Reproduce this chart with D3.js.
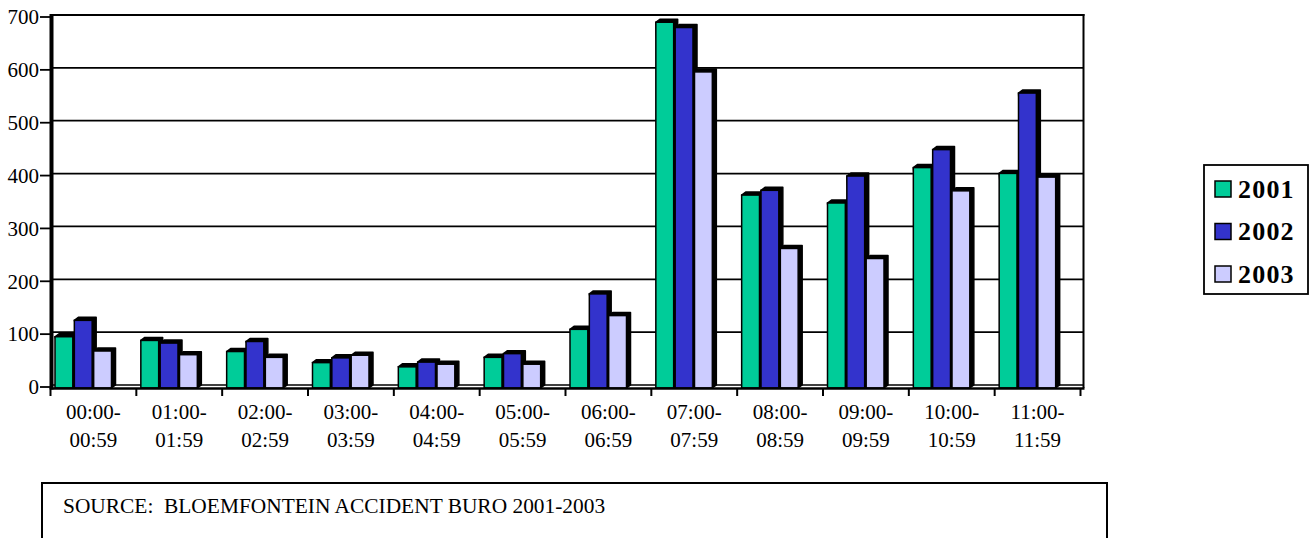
<!DOCTYPE html>
<html>
<head>
<meta charset="utf-8">
<script src="https://cdn.jsdelivr.net/npm/d3@7"></script>
<style>
  html, body { margin: 0; padding: 0; background: #fff; }
  svg { display: block; }
</style>
</head>
<body>
<svg id="chart"></svg>
<script>
// DATA
const categories = [
    "00:00-00:59", "01:00-01:59", "02:00-02:59", "03:00-03:59",
    "04:00-04:59", "05:00-05:59", "06:00-06:59", "07:00-07:59",
    "08:00-08:59", "09:00-09:59", "10:00-10:59", "11:00-11:59"
];
const years = ["2001", "2002", "2003"];
const values2001 = [97, 90, 69, 48, 40, 58, 111, 692, 365, 350, 417, 406];
const values2002 = [128, 85, 88, 57, 49, 65, 178, 682, 374, 401, 451, 558];
const values2003 = [70, 63, 58, 62, 45, 45, 137, 598, 264, 245, 373, 399];
const yTicks = [0, 100, 200, 300, 400, 500, 600, 700];
const sourceText = "SOURCE:  BLOEMFONTEIN ACCIDENT BURO 2001-2003";

const seriesValues = [values2001, values2002, values2003];
const colors = ["#00CC99", "#3333CC", "#CCCCFF"];

// layout
const WIDTH = 1314, HEIGHT = 538;
const PLOT = { left: 50.5, right: 1080.5, top: 15, bottom: 385 };
const FRAME_RIGHT = 1083.5;
const DX = 4, DY = 3;          // depth offset of the 3d columns
const FONT = '"Liberation Serif", "Times New Roman", Times, serif';

const svg = d3.select('#chart')
    .attr('width', WIDTH)
    .attr('height', HEIGHT);

const x = d3.scaleBand().domain(categories).range([PLOT.left, PLOT.right]);
const xInner = d3.scaleBand().domain(years).range([4.5, 4.5 + 58]);
const y = d3.scaleLinear().domain([0, 700]).range([PLOT.bottom, PLOT.top]);

// gridlines (back wall)
svg.append('g').selectAll('line')
    .data(yTicks.slice(1))
    .enter()
    .append('line')
    .attr('x1', PLOT.left + 2)
    .attr('x2', FRAME_RIGHT)
    .attr('y1', d => y(d))
    .attr('y2', d => y(d))
    .style('stroke', '#000')
    .style('stroke-width', 1.8);

// zero line on back wall
svg.append('line')
    .attr('x1', PLOT.left + 2).attr('x2', FRAME_RIGHT)
    .attr('y1', y(0)).attr('y2', y(0))
    .style('stroke', '#000').style('stroke-width', 1.6);

// right frame
svg.append('line')
    .attr('x1', FRAME_RIGHT).attr('x2', FRAME_RIGHT)
    .attr('y1', y(700) - 1).attr('y2', y(0) + DY)
    .style('stroke', '#000').style('stroke-width', 2);

// bars
const barData = categories.flatMap((c, i) => years.map((yr, j) => ({
    cat: c, year: yr, value: seriesValues[j][i], color: colors[j]
})));

const bars = svg.append('g').selectAll('.bar')
    .data(barData)
    .enter()
    .append('g')
    .classed('bar', true);

const barW = xInner.bandwidth() - 1.5;

// black depth faces (top + right side)
bars.append('path')
    .attr('d', d => {
        const x0 = x(d.cat) + xInner(d.year);
        const x1 = x0 + barW;
        const yt = y(d.value) + DY;
        const yb = y(0) + DY;
        return `M${x0},${yt} L${x0 + DX},${yt - DY} L${x1 + DX},${yt - DY} L${x1 + DX},${yb - DY} L${x1},${yb} Z`;
    })
    .style('fill', '#000')
    .style('stroke', '#000')
    .style('stroke-width', 1.5)
    .style('stroke-linejoin', 'round');

bars.append('rect')
    .attr('x', d => x(d.cat) + xInner(d.year))
    .attr('y', d => y(d.value) + DY)
    .attr('width', barW)
    .attr('height', d => y(0) - y(d.value))
    .style('fill', d => d.color)
    .style('stroke', '#000')
    .style('stroke-width', 1.5);

// top frame line
svg.append('line')
    .attr('x1', PLOT.left).attr('x2', FRAME_RIGHT + 1)
    .attr('y1', y(700)).attr('y2', y(700))
    .style('stroke', '#000').style('stroke-width', 2.2);

// left wall edge
svg.append('line')
    .attr('x1', PLOT.left + 1).attr('x2', PLOT.left + 1)
    .attr('y1', y(700) - 1).attr('y2', y(0) + DY + 1.5)
    .style('stroke', '#000').style('stroke-width', 4);

// x axis (front floor edge)
svg.append('line')
    .attr('x1', PLOT.left).attr('x2', FRAME_RIGHT + 1)
    .attr('y1', y(0) + DY + 0.5).attr('y2', y(0) + DY + 0.5)
    .style('stroke', '#000').style('stroke-width', 2.5);

svg.append('g').selectAll('line')
    .data(categories.map(c => x(c)).concat([PLOT.right]))
    .enter()
    .append('line')
    .attr('x1', d => d).attr('x2', d => d)
    .attr('y1', y(0) + DY).attr('y2', y(0) + DY + 8)
    .style('stroke', '#000').style('stroke-width', 2);

// x labels
const xLabels = svg.append('g').selectAll('text')
    .data(categories)
    .enter()
    .append('text')
    .attr('x', d => x(d) + x.bandwidth() / 2)
    .attr('y', 419)
    .style('font-family', FONT)
    .style('font-size', '21px')
    .style('text-anchor', 'middle')
    .style('fill', '#000');

xLabels.append('tspan')
    .attr('x', d => x(d) + x.bandwidth() / 2)
    .text(d => d.slice(0, 6));
xLabels.append('tspan')
    .attr('x', d => x(d) + x.bandwidth() / 2)
    .attr('dy', 28)
    .text(d => d.slice(6));

// y axis ticks and labels
svg.append('g').selectAll('line')
    .data(yTicks)
    .enter()
    .append('line')
    .attr('x1', 40).attr('x2', PLOT.left)
    .attr('y1', d => y(d) + 2).attr('y2', d => y(d) + 2)
    .style('stroke', '#000').style('stroke-width', 1.8);

svg.append('g').selectAll('text')
    .data(yTicks)
    .enter()
    .append('text')
    .text(d => d)
    .attr('x', 39)
    .attr('y', d => y(d) + 2)
    .attr('dy', '0.35em')
    .style('font-family', FONT)
    .style('font-size', '21px')
    .style('text-anchor', 'end')
    .style('fill', '#000');

// legend
const legend = svg.append('g');
legend.append('rect')
    .attr('x', 1204).attr('y', 165)
    .attr('width', 104).attr('height', 129)
    .style('fill', '#fff')
    .style('stroke', '#000')
    .style('stroke-width', 1.8);

const legendItems = legend.selectAll('.legend-item')
    .data(years)
    .enter()
    .append('g')
    .attr('transform', (d, i) => `translate(1215, ${181 + i * 42.5})`);

legendItems.append('rect')
    .attr('width', 16).attr('height', 16)
    .style('fill', (d, i) => colors[i])
    .style('stroke', '#000')
    .style('stroke-width', 1.5);

legendItems.append('text')
    .text(d => d)
    .attr('x', 23)
    .attr('y', 16.5)
    .style('font-family', FONT)
    .style('font-size', '26px')
    .style('font-weight', 'bold')
    .style('letter-spacing', '1.2px')
    .style('fill', '#000');

// source box
svg.append('rect')
    .attr('x', 42).attr('y', 483)
    .attr('width', 1065).attr('height', 80)
    .style('fill', '#fff')
    .style('stroke', '#000')
    .style('stroke-width', 2);

svg.append('text')
    .text(sourceText)
    .attr('x', 63)
    .attr('y', 513)
    .attr('xml:space', 'preserve')
    .style('white-space', 'pre')
    .style('font-family', FONT)
    .style('font-size', '21.4px')
    .style('fill', '#000');
</script>
</body>
</html>
